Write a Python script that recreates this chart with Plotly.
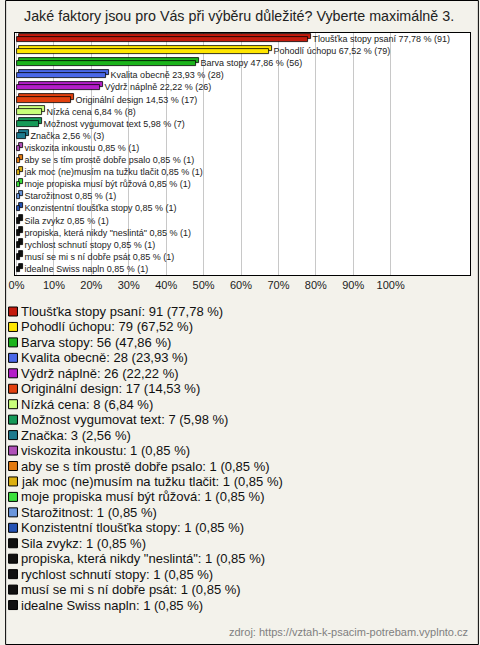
import plotly.graph_objects as go

title = "Jaké faktory jsou pro Vás při výběru důležité? Vyberte maximálně 3."
source = "zdroj: https://vztah-k-psacim-potrebam.vyplnto.cz"

categories = [
    "Tloušťka stopy psaní", "Pohodlí úchopu", "Barva stopy", "Kvalita obecně",
    "Výdrž náplně", "Originální design", "Nízká cena", "Možnost vygumovat text",
    "Značka", "viskozita inkoustu", "aby se s tím prostě dobře psalo",
    "jak moc (ne)musím na tužku tlačit", "moje propiska musí být růžová",
    "Starožitnost", "Konzistentní tloušťka stopy", "Sila zvykz",
    "propiska, která nikdy \"neslintá\"", "rychlost schnutí stopy",
    "musí se mi s ní dobře psát", "idealne Swiss napln",
]
counts = [91, 79, 56, 28, 26, 17, 8, 7, 3, 1, 1, 1, 1, 1, 1, 1, 1, 1, 1, 1]
percents = [77.78, 67.52, 47.86, 23.93, 22.22, 14.53, 6.84, 5.98, 2.56,
            0.85, 0.85, 0.85, 0.85, 0.85, 0.85, 0.85, 0.85, 0.85, 0.85, 0.85]
colors = ["#C41A0C", "#FFE600", "#1CB41C", "#4A68E8", "#B41EC8", "#E2400E",
          "#C8FF7A", "#169A58", "#1E7A8E", "#B050B8", "#E27A10", "#DDB010",
          "#3CE03C", "#6A96DC", "#2452B4", "#111111", "#111111", "#111111",
          "#111111", "#111111"]
tick_vals = [0, 10, 20, 30, 40, 50, 60, 70, 80, 90, 100]
tick_text = [f"{v}%" for v in tick_vals]

def fmt(p):
    return f"{p:.2f}".replace(".", ",")

W, H = 480, 645
X0, X1, Y0, Y1 = 10, 471, 33, 275  # plot area in px

def px(x):
    return (x - X0) / (X1 - X0)

def py(y):
    return (Y1 - y) / (Y1 - Y0)

bar_text = ["\u00a0\u00a0" + f"{c} {fmt(p)} % ({n})" for c, p, n in zip(categories, percents, counts)]

fig = go.Figure()
# back face (pseudo-3D depth)
fig.add_trace(go.Bar(
    y=categories, x=percents, base=0.8, orientation="h",
    marker=dict(color=colors, line=dict(color="#000000", width=0.8)),
    width=0.45, offset=-0.45, hoverinfo="skip", showlegend=False,
))
fig.add_trace(go.Bar(
    y=categories, x=percents, orientation="h",
    marker=dict(color=colors, line=dict(color="#000000", width=0.8)),
    width=0.45, offset=-0.2,
    text=bar_text, textposition="outside", cliponaxis=False,
    constraintext="none",
    textfont=dict(family="Liberation Sans, Arial, sans-serif", size=9, color="#222222"),
    showlegend=False,
))

fig.update_layout(
    width=W, height=H,
    margin=dict(l=X0, r=W - X1, t=Y0, b=H - Y1),
    paper_bgcolor="#F3F2EB", plot_bgcolor="#FFFFFF",
    barmode="overlay", bargap=0.0,
    font=dict(family="Liberation Sans, Arial, sans-serif", color="#222222"),
    xaxis=dict(range=[-0.4, 121.2], tickvals=tick_vals, ticktext=tick_text,
               showgrid=True, gridcolor="#C8C8C8", gridwidth=1, zeroline=False,
               showline=True, linecolor="#000000", linewidth=1, mirror=True,
               ticks="", tickfont=dict(size=11, color="#222222")),
    yaxis=dict(autorange="reversed", showticklabels=False, showgrid=False,
               zeroline=False, showline=True, linecolor="#000000", linewidth=1,
               mirror=True, ticks=""),
)

annotations = [dict(text=title, xref="paper", yref="paper", x=px(237), y=py(16),
                    xanchor="center", yanchor="middle", showarrow=False,
                    font=dict(size=14.3, color="#222222"))]
annotations.append(dict(text=source, xref="paper", yref="paper", x=px(471), y=py(632),
                        xanchor="right", yanchor="middle", showarrow=False,
                        font=dict(size=11, color="#808080")))
shapes = []
for i, (c, p, n, col) in enumerate(zip(categories, percents, counts, colors)):
    yc = 311.5 + 15.45 * i
    shapes.append(dict(type="rect", xref="paper", yref="paper",
                       x0=px(3.5), x1=px(12.5), y0=py(yc - 4.5), y1=py(yc + 4.5),
                       fillcolor=col, line=dict(color="#000000", width=1)))
    annotations.append(dict(text=f"{c}: {n} ({fmt(p)} %)", xref="paper", yref="paper",
                            x=px(14), y=py(yc), xanchor="left", yanchor="middle",
                            showarrow=False, font=dict(size=13, color="#111111")))
# outer border
shapes.append(dict(type="rect", xref="paper", yref="paper",
                   x0=px(0.5), x1=px(W - 0.5), y0=py(0.5), y1=py(H - 0.5),
                   line=dict(color="#000000", width=1), fillcolor="rgba(0,0,0,0)"))
fig.update_layout(annotations=annotations, shapes=shapes)

fig.write_html("out.html", config={"displayModeBar": False},
               post_script="document.body.style.margin='0';document.body.style.overflow='hidden';")
